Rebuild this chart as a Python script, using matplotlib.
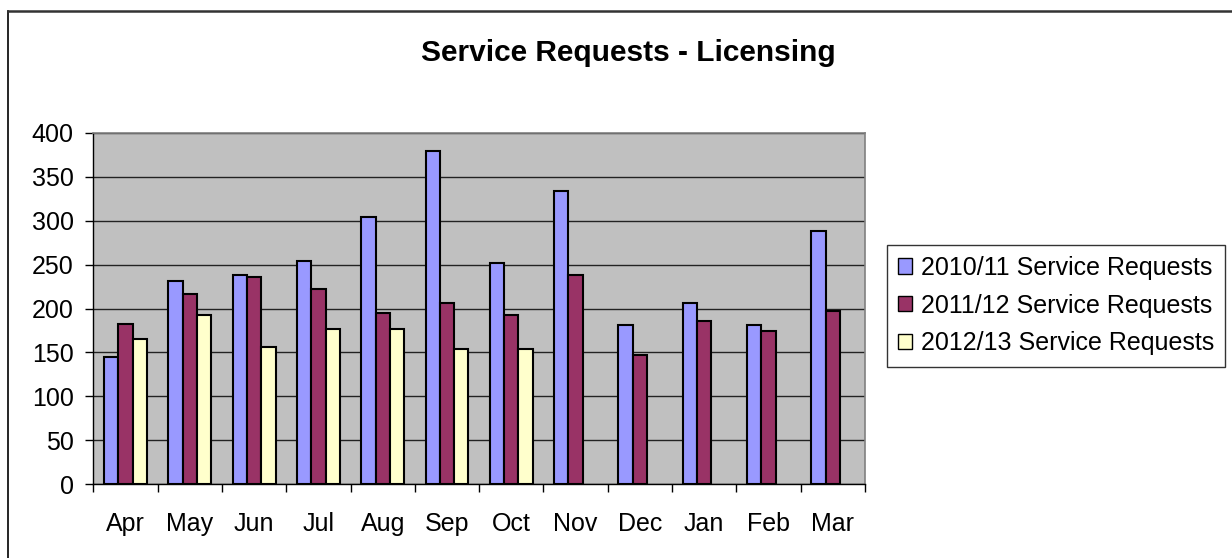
import matplotlib
matplotlib.use("Agg")
import matplotlib.pyplot as plt
import numpy as np
from matplotlib.lines import Line2D

months = ["Apr", "May", "Jun", "Jul", "Aug", "Sep", "Oct", "Nov", "Dec", "Jan", "Feb", "Mar"]
sr_2010_11 = [145, 231, 238, 254, 304, 379, 252, 334, 181, 206, 181, 288]
sr_2011_12 = [182, 216, 236, 222, 195, 206, 193, 238, 147, 186, 174, 197]
sr_2012_13 = [165, 193, 156, 177, 177, 154, 154, None, None, None, None, None]
series_names = ["2010/11 Service Requests", "2011/12 Service Requests", "2012/13 Service Requests"]
colors = ["#9999ff", "#993366", "#ffffcc"]
yticks = [0, 50, 100, 150, 200, 250, 300, 350, 400]

plt.rcParams['font.family'] = ['Liberation Sans', 'DejaVu Sans']

W, H = 1232, 558
fig = plt.figure(figsize=(W / 100, H / 100), dpi=100)
fig.patch.set_facecolor("white")

# outer chart border (top and left visible)
fig.add_artist(Line2D([7.5 / W, 7.5 / W], [0, 1 - 10.5 / H], transform=fig.transFigure, color="black", lw=1.2))
fig.add_artist(Line2D([7.5 / W, 1], [1 - 10.5 / H, 1 - 10.5 / H], transform=fig.transFigure, color="#333333", lw=1.8))

left, right, top, bottom = 93.3, 865, 132.7, 484.3
ax = fig.add_axes([left / W, 1 - bottom / H, (right - left) / W, (bottom - top) / H])
ax.set_facecolor("#c0c0c0")

x = np.arange(len(months))
w = 1 / 4.5
data = [sr_2010_11, sr_2011_12, sr_2012_13]
for k, (vals, name, c) in enumerate(zip(data, series_names, colors)):
    v = np.array([np.nan if val is None else val for val in vals], dtype=float)
    ax.bar(x + (k - 1) * w, v, width=w, color=c, edgecolor="black", linewidth=1.5, label=name, zorder=3)

ax.set_xlim(-0.5, len(months) - 0.5)
ax.set_ylim(0, 400)
ax.set_yticks(yticks)
ax.yaxis.grid(True, color="#222222", linewidth=1.0, zorder=1)
ax.set_axisbelow(True)

ax.set_xticks(x)
ax.set_xticklabels(months)
ax.set_xticks(np.arange(len(months) + 1) - 0.5, minor=True)
ax.tick_params(axis="x", which="major", length=0, pad=20, labelsize=18)
ax.tick_params(axis="x", which="minor", length=6, width=1, direction="out")
ax.tick_params(axis="y", length=6, width=1, direction="out", pad=8, labelsize=18)

for s in ["top", "right"]:
    ax.spines[s].set_color("#808080")
    ax.spines[s].set_linewidth(1.2)
for s in ["left", "bottom"]:
    ax.spines[s].set_color("black")
    ax.spines[s].set_linewidth(1.0)

fig.text((422 + 835) / 2 / W, 1 - 53 / H, "Service Requests - Licensing", ha="center", va="center",
         fontsize=21.5, fontweight="bold")

leg = fig.legend(loc="upper left", bbox_to_anchor=(887 / W, 1 - 244.5 / H), frameon=True, fancybox=False,
                 edgecolor="black", fontsize=18, handlelength=0.56, handleheight=0.56, handletextpad=0.34,
                 borderpad=0.45, labelspacing=0.55, borderaxespad=0)
leg.get_frame().set_linewidth(1.0)
for p in leg.get_patches():
    p.set_edgecolor("black")
    p.set_linewidth(1.0)

fig.savefig("out.png", dpi=100, facecolor="white")
